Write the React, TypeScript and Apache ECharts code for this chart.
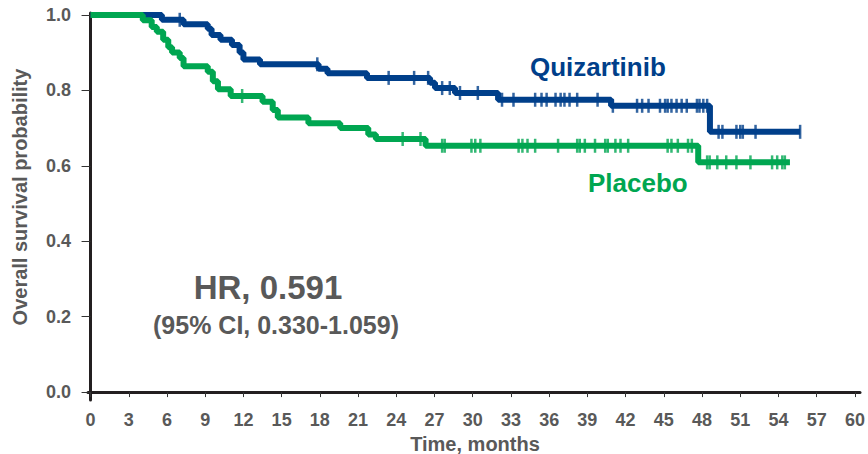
import React, { useEffect, useRef } from "react";
import * as echarts from "echarts";

// Kaplan-Meier steps: [time (months), survival after the event]
const quizSteps: [number, number][] = [
  [0, 1.0], [5.6, 0.987], [7.3, 0.975], [9.2, 0.963], [9.5, 0.947], [10.2, 0.934],
  [11.1, 0.92], [11.7, 0.9], [12.0, 0.882], [13.3, 0.869], [17.9, 0.857], [18.6, 0.845],
  [21.7, 0.833], [26.65, 0.82], [27.04, 0.806], [28.61, 0.793], [31.99, 0.775],
  [40.86, 0.759], [48.62, 0.69], [55.7, 0.69],
];
const placeboSteps: [number, number][] = [
  [0, 1.0], [4.1, 0.986], [4.8, 0.968], [5.2, 0.955], [5.7, 0.934], [6.1, 0.914],
  [6.4, 0.9], [7.0, 0.886], [7.3, 0.864], [9.2, 0.849], [9.6, 0.824], [10.0, 0.803],
  [11.0, 0.785], [13.5, 0.77], [14.3, 0.748], [14.7, 0.728], [17.1, 0.713], [19.6, 0.7],
  [21.8, 0.683], [22.4, 0.671], [26.3, 0.653], [47.7, 0.609], [54.9, 0.609],
];
// Censoring times (months)
const quizCensor: number[] = [
  7.0, 17.8, 23.4, 25.4, 26.5, 27.6, 28.2, 29.0, 30.4, 32.3, 33.2, 34.9, 35.4, 35.8, 36.5,
  36.9, 37.2, 37.6, 38.2, 39.8, 41.0, 42.9, 43.3, 43.8, 44.7, 45.1, 45.3, 45.6, 46.0, 46.4,
  46.8, 47.6, 47.8, 48.1, 48.4, 49.3, 49.6, 50.7, 51.0, 51.2, 52.2, 55.7,
];
const placeboCensor: number[] = [
  11.9, 24.5, 25.9, 27.6, 27.8, 29.9, 30.2, 30.6, 33.6, 33.9, 34.3, 34.9, 36.7, 38.2, 38.4,
  38.8, 39.6, 40.4, 40.6, 41.2, 41.6, 42.2, 45.3, 45.6, 46.1, 46.9, 47.2, 48.4, 48.6, 49.2,
  49.9, 50.7, 51.8, 53.5, 53.9, 54.3, 54.5,
];
const xTicks: number[] = [0, 3, 6, 9, 12, 15, 18, 21, 24, 27, 30, 33, 36, 39, 42, 45, 48, 51, 54, 57, 60];
const yTicks: number[] = [0, 0.2, 0.4, 0.6, 0.8, 1.0];

const BLUE = "#003F8A";
const GREEN = "#00A651";
const GRAY = "#595959";
const FONT = "Liberation Sans, Arial, sans-serif";

function survAt(steps: [number, number][], t: number): number {
  let v = steps[0][1];
  for (const [st, sv] of steps) {
    if (st <= t) v = sv;
  }
  return v;
}

export default function App() {
  const ref = useRef<HTMLDivElement>(null);
  useEffect(() => {
    if (!ref.current) return;
    const chart = echarts.init(ref.current, undefined, { renderer: "svg" });
    const censorSymbol = { symbol: "rect", symbolSize: [2.5, 14] };
    chart.setOption({
      animation: false,
      grid: { left: 88, right: 8, top: 13, bottom: 54 },
      xAxis: {
        type: "value",
        min: -0.2,
        max: 60.4,
        axisLine: { show: true, lineStyle: { color: "#231f20", width: 3 } },
        axisTick: { show: true, customValues: xTicks, length: 5, lineStyle: { color: "#333", width: 1 } },
        axisLabel: {
          customValues: xTicks,
          fontSize: 18,
          fontWeight: "bold",
          fontFamily: FONT,
          color: GRAY,
          margin: 11,
        },
        splitLine: { show: false },
      },
      yAxis: {
        type: "value",
        min: -0.021,
        max: 1.005,
        axisLine: { show: true, lineStyle: { color: "#231f20", width: 3 } },
        axisTick: { show: true, customValues: yTicks, length: 9, lineStyle: { color: "#333", width: 1 } },
        axisLabel: {
          customValues: yTicks,
          formatter: (v: number) => v.toFixed(1),
          fontSize: 18,
          fontWeight: "bold",
          fontFamily: FONT,
          color: GRAY,
          margin: 17,
        },
        splitLine: { show: false },
      },
      series: [
        {
          type: "line",
          step: "end",
          data: quizSteps,
          showSymbol: false,
          lineStyle: { color: BLUE, width: 6 },
          itemStyle: { color: BLUE },
        },
        {
          type: "scatter",
          data: quizCensor.map((t) => [t, survAt(quizSteps, t)]),
          ...censorSymbol,
          itemStyle: { color: BLUE },
        },
        {
          type: "line",
          step: "end",
          data: placeboSteps,
          showSymbol: false,
          lineStyle: { color: GREEN, width: 6 },
          itemStyle: { color: GREEN },
        },
        {
          type: "scatter",
          data: placeboCensor.map((t) => [t, survAt(placeboSteps, t)]),
          ...censorSymbol,
          itemStyle: { color: GREEN },
        },
      ],
      graphic: [
        {
          type: "text",
          x: 20,
          y: 197,
          rotation: Math.PI / 2,
          style: {
            text: "Overall survival probability",
            font: `bold 20px ${FONT}`,
            fill: GRAY,
            align: "center",
            verticalAlign: "middle",
          },
        },
        {
          type: "text",
          x: 475,
          y: 444,
          style: {
            text: "Time, months",
            font: `bold 20px ${FONT}`,
            fill: GRAY,
            align: "center",
            verticalAlign: "middle",
          },
        },
        {
          type: "text",
          x: 530,
          y: 67,
          style: {
            text: "Quizartinib",
            font: `bold 26px ${FONT}`,
            fill: BLUE,
            align: "left",
            verticalAlign: "middle",
          },
        },
        {
          type: "text",
          x: 588,
          y: 183,
          style: {
            text: "Placebo",
            font: `bold 26px ${FONT}`,
            fill: GREEN,
            align: "left",
            verticalAlign: "middle",
          },
        },
        {
          type: "text",
          x: 268,
          y: 287,
          style: {
            text: "HR, 0.591",
            font: `bold 33px ${FONT}`,
            fill: GRAY,
            align: "center",
            verticalAlign: "middle",
          },
        },
        {
          type: "text",
          x: 276,
          y: 325,
          style: {
            text: "(95% CI, 0.330-1.059)",
            font: `bold 25px ${FONT}`,
            fill: GRAY,
            align: "center",
            verticalAlign: "middle",
          },
        },
      ],
    });
    return () => chart.dispose();
  }, []);
  return (
    <div
      ref={ref}
      style={{ position: "fixed", left: 0, top: 0, width: 868, height: 454, background: "#fff" }}
    />
  );
}
